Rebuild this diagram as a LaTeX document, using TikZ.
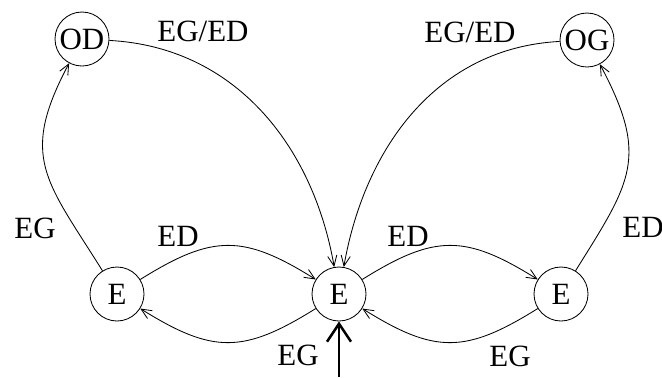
\documentclass[tikz,border=0pt]{standalone}
\usepackage{fontspec}
\setmainfont{Liberation Serif}
\usetikzlibrary{arrows.meta}

\begin{document}
\begin{tikzpicture}[
  state/.style={circle,draw,line width=0.6pt,minimum size=1.35cm,inner sep=0pt},
  trans/.style={line width=0.6pt,-{Straight Barb[length=2.6mm,width=2.3mm]}},
  lab/.style={inner sep=0pt}]
  \fontsize{22}{26}\selectfont
  \useasboundingbox (0,0) rectangle (16.55,9.425);
  % states
  \node[state] (od) at (2.05,8.45) {OD};
  \node[state] (og) at (14.675,8.425) {OG};
  \node[state] (el) at (2.925,2.075) {E};
  \node[state] (ec) at (8.475,2.075) {E};
  \node[state] (er) at (14.025,2.075) {E};
  \coordinate (init) at (8.475,0);
  % transitions
  \draw[trans] (el) to[out=122,in=-118,looseness=1.3] (od);
  \draw[trans] (er) to[out=58,in=-62,looseness=1.3] (og);
  \draw[trans] (od) to[out=-3,in=100] (ec);
  \draw[trans] (og) to[out=183,in=80] (ec);
  \draw[trans] (el) to[bend left=32,looseness=1.25] (ec);
  \draw[trans] (ec) to[bend left=32,looseness=1.25] (el);
  \draw[trans] (ec) to[bend left=32,looseness=1.25] (er);
  \draw[trans] (er) to[bend left=32,looseness=1.25] (ec);
  % initial arrow
  \draw[line width=1.8pt,-{Straight Barb[length=4.5mm,width=6mm]}] (init) -- (ec);
  % labels
  \node[lab] (l1) at (5.075,8.65) {EG/ED};
  \node[lab] (l2) at (11.75,8.625) {EG/ED};
  \node[lab] (l3) at (0.875,3.725) {EG};
  \node[lab] (l4) at (4.45,3.525) {ED};
  \node[lab] (l5) at (7.45,0.55) {EG};
  \node[lab] (l6) at (10.2,3.525) {ED};
  \node[lab] (l7) at (12.75,0.525) {EG};
  \node[lab] (l8) at (16.075,3.75) {ED};
\end{tikzpicture}
\end{document}
